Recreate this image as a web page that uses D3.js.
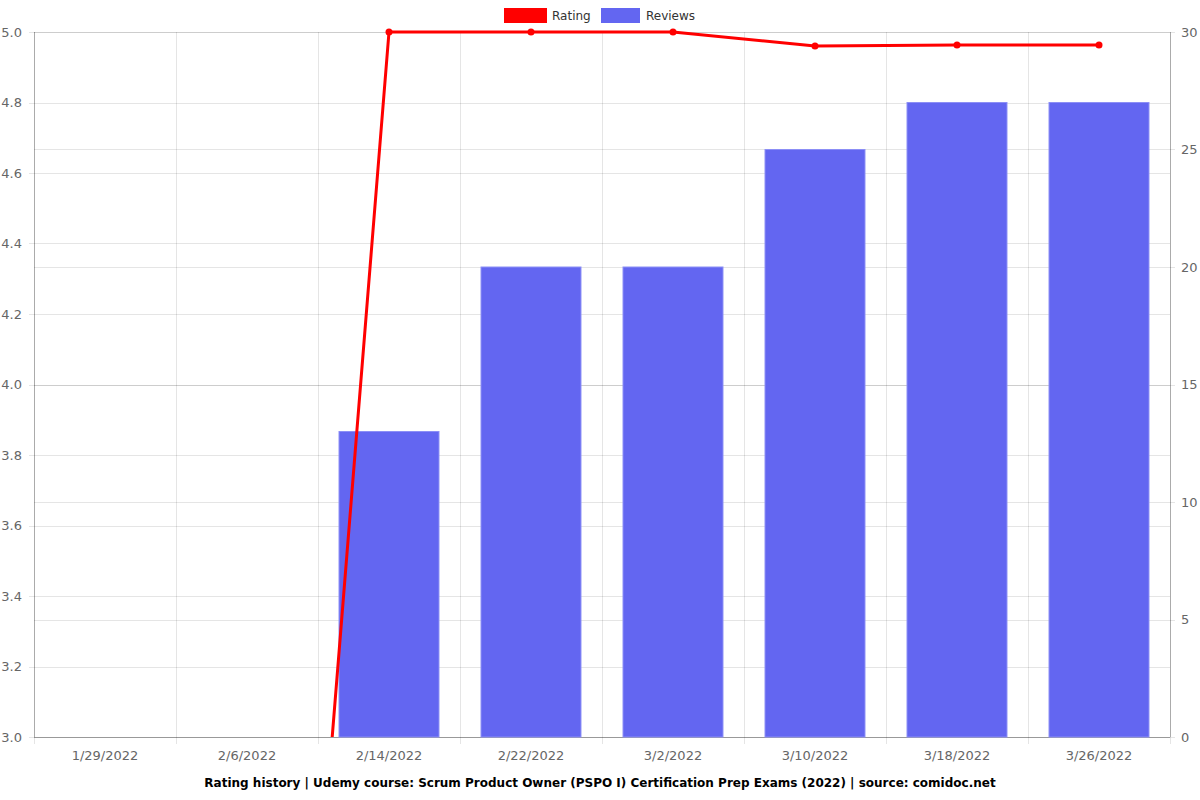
<!DOCTYPE html>
<html><head><meta charset="utf-8">
<script src="https://cdn.jsdelivr.net/npm/d3@7"></script>
<style>body{margin:0;background:#fff;} text{font-family:"DejaVu Sans",sans-serif;}</style>
</head><body>
<svg id="c" width="1200" height="800"></svg>
<script>
const categories = ["1/29/2022","2/6/2022","2/14/2022","2/22/2022","3/2/2022","3/10/2022","3/18/2022","3/26/2022"];
const ratingValues = [0, 0, 5, 5, 5, 4.96, 4.963, 4.963];
const reviewValues = [null, null, 13, 20, 20, 25, 27, 27];
const leftTicks = [3.0,3.2,3.4,3.6,3.8,4.0,4.2,4.4,4.6,4.8,5.0];
const rightTicks = [0,5,10,15,20,25,30];
const titleText = "Rating history | Udemy course: Scrum Product Owner (PSPO I) Certification Prep Exams (2022) | source: comidoc.net";

const svg = d3.select("#c");
const L = 34, R = 1170, T = 32, B = 737;
const x = d3.scaleBand().domain(categories).range([L, R]).paddingInner(0).paddingOuter(0);
const yL = d3.scaleLinear().domain([3, 5]).range([B, T]);
const yR = d3.scaleLinear().domain([0, 30]).range([B, T]);
const grid = "rgba(0,0,0,0.1)";

// grids
const g = svg.append("g");
g.selectAll(".hl").data(leftTicks).join("line")
  .attr("x1", L - 5).attr("x2", R).attr("y1", d => Math.round(yL(d)) + 0.5).attr("y2", d => Math.round(yL(d)) + 0.5)
  .attr("stroke", grid);
g.selectAll(".hr").data(rightTicks).join("line")
  .attr("x1", L).attr("x2", R + 5).attr("y1", d => Math.round(yR(d)) + 0.5).attr("y2", d => Math.round(yR(d)) + 0.5)
  .attr("stroke", grid);
const bounds = categories.map(c => x(c)).concat([R]);
g.selectAll(".v").data(bounds).join("line")
  .attr("x1", d => Math.round(d) + 0.5).attr("x2", d => Math.round(d) + 0.5)
  .attr("y1", T).attr("y2", B + 7).attr("stroke", grid);
// axis border lines
svg.append("line").attr("x1", L + 0.5).attr("x2", L + 0.5).attr("y1", T).attr("y2", B).attr("stroke", "rgba(0,0,0,0.25)");
svg.append("line").attr("x1", R + 0.5).attr("x2", R + 0.5).attr("y1", T).attr("y2", B).attr("stroke", "rgba(0,0,0,0.25)");
svg.append("line").attr("x1", L).attr("x2", R).attr("y1", B + 0.5).attr("y2", B + 0.5).attr("stroke", "rgba(0,0,0,0.25)");

// tick labels
svg.selectAll(".lt").data(leftTicks).join("text")
  .attr("x", L - 12).attr("y", d => yL(d)).attr("dy", "0.35em").attr("text-anchor", "end")
  .attr("font-size", 13).attr("fill", "#666").text(d => d.toFixed(1));
svg.selectAll(".rt").data(rightTicks).join("text")
  .attr("x", R + 11).attr("y", d => yR(d)).attr("dy", "0.35em").attr("text-anchor", "start")
  .attr("font-size", 13).attr("fill", "#666").text(d => d);
svg.selectAll(".xt").data(categories).join("text")
  .attr("x", d => x(d) + x.bandwidth() / 2).attr("y", B + 23).attr("text-anchor", "middle")
  .attr("font-size", 13).attr("fill", "#666").text(d => d);

// bars
const bw = x.bandwidth() * 0.8 * 0.88;
svg.selectAll(".bar").data(categories.map((c, i) => ({c, v: reviewValues[i]})).filter(d => d.v != null)).join("rect")
  .attr("x", d => x(d.c) + x.bandwidth() / 2 - bw / 2).attr("width", bw)
  .attr("y", d => yR(d.v)).attr("height", d => B - yR(d.v))
  .attr("fill", "#6366f1").attr("stroke", "rgba(140,143,246,1)").attr("stroke-width", 1);

// line (clipped)
svg.append("defs").append("clipPath").attr("id", "clip").append("rect")
  .attr("x", L).attr("y", T - 4).attr("width", R - L).attr("height", B - T + 4);
const pts = categories.map((c, i) => [x(c) + x.bandwidth() / 2, yL(ratingValues[i])]);
const lg = svg.append("g").attr("clip-path", "url(#clip)");
lg.append("path").attr("d", d3.line()(pts)).attr("fill", "none").attr("stroke", "#ff0000").attr("stroke-width", 3);
lg.selectAll("circle").data(pts).join("circle").attr("cx", d => d[0]).attr("cy", d => d[1]).attr("r", 3.5).attr("fill", "#ff0000");

// legend
const leg = svg.append("g");
leg.append("rect").attr("x", 504).attr("y", 8).attr("width", 43).attr("height", 15).attr("fill", "#ff0000");
leg.append("text").attr("x", 552).attr("y", 16).attr("dy", "0.35em").attr("font-size", 12).attr("fill", "#333").text("Rating");
leg.append("rect").attr("x", 601).attr("y", 8).attr("width", 39).attr("height", 15).attr("fill", "#6366f1");
leg.append("text").attr("x", 646).attr("y", 16).attr("dy", "0.35em").attr("font-size", 12).attr("fill", "#333").text("Reviews");

// title
svg.append("text").attr("x", 600).attr("y", 783).attr("dy", "0.35em").attr("text-anchor", "middle")
  .attr("font-size", 12).attr("font-weight", "bold").attr("fill", "#000").text(titleText);
</script>
</body></html>
